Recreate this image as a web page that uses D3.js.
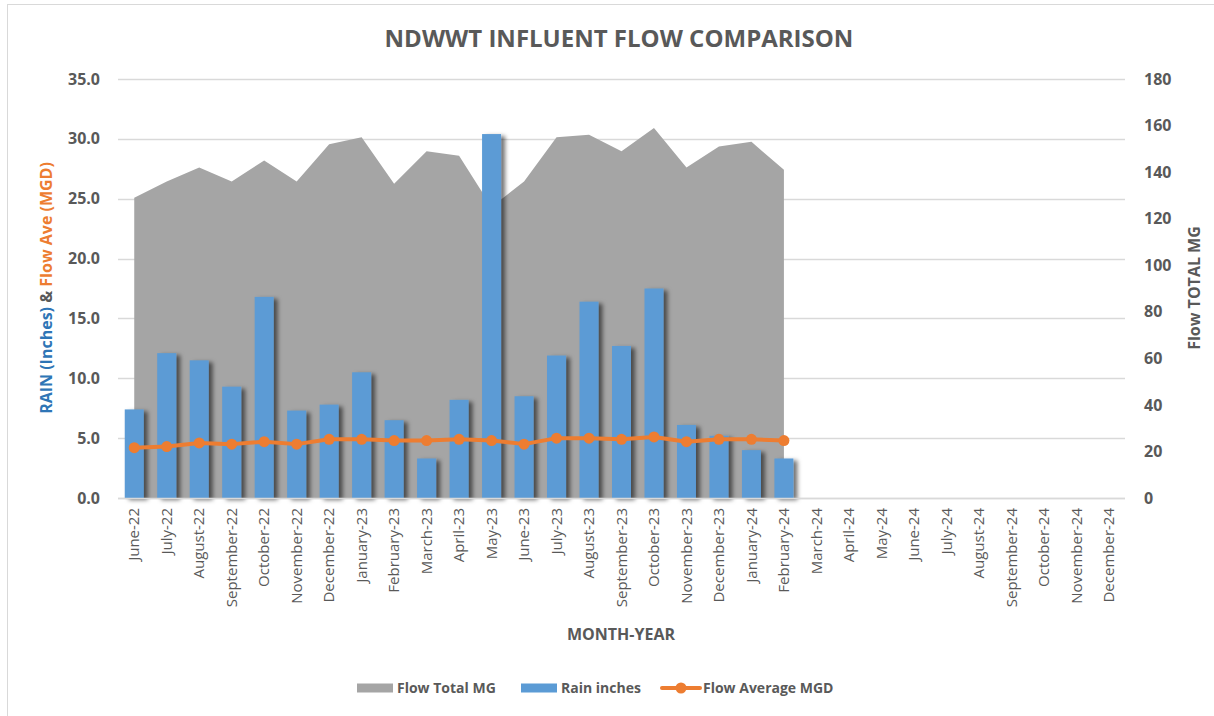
<!DOCTYPE html>
<html>
<head>
<meta charset="utf-8">
<script src="https://cdn.jsdelivr.net/npm/d3@7"></script>
<style>
	body { margin: 0; background: #fff; }
	text { font-family: 'Open Sans', sans-serif; fill: #595959; }
</style>
</head>
<body>
<script>
const months = [
	'June-22', 'July-22', 'August-22', 'September-22', 'October-22', 'November-22', 'December-22',
	'January-23', 'February-23', 'March-23', 'April-23', 'May-23', 'June-23', 'July-23', 'August-23',
	'September-23', 'October-23', 'November-23', 'December-23', 'January-24', 'February-24',
	'March-24', 'April-24', 'May-24', 'June-24', 'July-24', 'August-24', 'September-24',
	'October-24', 'November-24', 'December-24'
]

const rainInches = [7.4, 12.1, 11.5, 9.3, 16.8, 7.3, 7.8, 10.5, 6.5, 3.3, 8.2, 30.4, 8.5, 11.9, 16.4, 12.7, 17.5, 6.1, 5.2, 4.0, 3.3]
const flowTotalMG = [129, 136, 142, 136, 145, 136, 152, 155, 135, 149, 147, 125, 136, 155, 156, 149, 159, 142, 151, 153, 141]
const flowAverageMGD = [4.2, 4.3, 4.6, 4.5, 4.7, 4.5, 4.9, 4.9, 4.8, 4.8, 4.9, 4.8, 4.5, 5.0, 5.0, 4.9, 5.1, 4.7, 4.9, 4.9, 4.8]

const leftTicks = [0, 5, 10, 15, 20, 25, 30, 35]
const rightTicks = [0, 20, 40, 60, 80, 100, 120, 140, 160, 180]

const W = 1214
const H = 716
const margin = { top: 79, right: 89, bottom: 218, left: 118 }
const width = W - margin.left - margin.right
const height = H - margin.top - margin.bottom

const c = {
	text: '#595959',
	grid: '#d9d9d9',
	area: '#a5a5a5',
	bar: '#5b9bd5',
	line: '#ed7d31',
	rainTitle: '#2e75b6'
}

const root = d3.select('body').append('svg')
	.attr('width', W)
	.attr('height', H)

const defs = root.append('defs')
defs.append('filter')
	.attr('id', 'shadow')
	.attr('x', '-30%').attr('y', '-10%')
	.attr('width', '180%').attr('height', '130%')
	.append('feDropShadow')
		.attr('dx', 4)
		.attr('dy', 2)
		.attr('stdDeviation', 2.2)
		.attr('flood-color', '#000')
		.attr('flood-opacity', 0.55)

// chart border
root.append('rect')
	.attr('x', 7.5).attr('y', 4.5)
	.attr('width', W + 20).attr('height', H + 20)
	.attr('fill', 'none')
	.attr('stroke', c.grid)

root.append('text')
	.attr('x', 619)
	.attr('y', 47)
	.attr('text-anchor', 'middle')
	.style('font-size', '24px')
	.style('font-weight', 700)
	.text('NDWWT INFLUENT FLOW COMPARISON')

const svg = root.append('g')
	.attr('transform', `translate(${margin.left},${margin.top})`)

const x = d3.scaleBand()
	.domain(months)
	.range([0, width])

const yLeft = d3.scaleLinear()
	.domain([0, 35])
	.range([height, 0])

const yRight = d3.scaleLinear()
	.domain([0, 180])
	.range([height, 0])

const cx = i => x(months[i]) + x.bandwidth() / 2

// gridlines
svg.append('g')
	.selectAll('line')
	.data(leftTicks)
	.join('line')
		.attr('x1', 0)
		.attr('x2', width)
		.attr('y1', d => Math.round(yLeft(d)) + 0.5)
		.attr('y2', d => Math.round(yLeft(d)) + 0.5)
		.attr('stroke', c.grid)
		.attr('stroke-width', 1.3)

// flow total area
const area = d3.area()
	.x((d, i) => cx(i))
	.y0(height)
	.y1(d => yRight(d))

svg.append('path')
	.datum(flowTotalMG)
	.attr('d', area)
	.attr('fill', c.area)

// rain bars
const barWidth = 19
svg.append('g')
	.attr('filter', 'url(#shadow)')
	.selectAll('rect')
	.data(rainInches)
	.join('rect')
		.attr('x', (d, i) => cx(i) - barWidth / 2)
		.attr('width', barWidth)
		.attr('y', d => yLeft(d))
		.attr('height', d => height - yLeft(d))
		.attr('fill', c.bar)

// baseline
svg.append('line')
	.attr('x1', 0).attr('x2', width)
	.attr('y1', height + 0.5).attr('y2', height + 0.5)
	.attr('stroke', c.grid)
	.attr('stroke-width', 1.5)

// flow average line
const line = d3.line()
	.x((d, i) => cx(i))
	.y(d => yLeft(d))

svg.append('path')
	.datum(flowAverageMGD)
	.attr('d', line)
	.attr('fill', 'none')
	.attr('stroke', c.line)
	.attr('stroke-width', 4)
	.attr('stroke-linejoin', 'round')

svg.append('g')
	.selectAll('circle')
	.data(flowAverageMGD)
	.join('circle')
		.attr('cx', (d, i) => cx(i))
		.attr('cy', d => yLeft(d))
		.attr('r', 5.5)
		.attr('fill', c.line)

// axes
const leftAxis = d3.axisLeft(yLeft)
	.tickValues(leftTicks)
	.tickFormat(d3.format('.1f'))
	.tickSize(0)
	.tickPadding(18)

svg.append('g')
	.attr('class', 'y-left')
	.call(leftAxis)
	.call(g => g.select('.domain').remove())
	.selectAll('text')
		.style('font-size', '16px')
		.style('font-weight', 700)
		.attr('fill', c.text)

const rightAxis = d3.axisRight(yRight)
	.tickValues(rightTicks)
	.tickSize(0)
	.tickPadding(19)

svg.append('g')
	.attr('class', 'y-right')
	.attr('transform', `translate(${width},0)`)
	.call(rightAxis)
	.call(g => g.select('.domain').remove())
	.selectAll('text')
		.style('font-size', '16px')
		.style('font-weight', 700)
		.attr('fill', c.text)

const xAxis = d3.axisBottom(x)
	.tickSize(0)

svg.append('g')
	.attr('class', 'x-axis')
	.attr('transform', `translate(0,${height})`)
	.call(xAxis)
	.call(g => g.select('.domain').remove())
	.selectAll('text')
		.attr('transform', 'rotate(-90)')
		.attr('x', -10)
		.attr('y', 0)
		.attr('dy', '0.35em')
		.attr('text-anchor', 'end')
		.style('font-size', '15px')
		.attr('fill', c.text)

// axis titles
const leftTitle = root.append('text')
	.attr('transform', 'translate(52,288) rotate(-90)')
	.attr('text-anchor', 'middle')
	.style('font-size', '16px')
	.style('font-weight', 700)
leftTitle.append('tspan').style('fill', c.rainTitle).text('RAIN (Inches)')
leftTitle.append('tspan').text(' & ')
leftTitle.append('tspan').style('fill', c.line).text('Flow Ave (MGD)')

root.append('text')
	.attr('transform', 'translate(1200,288) rotate(-90)')
	.attr('text-anchor', 'middle')
	.style('font-size', '16px')
	.style('font-weight', 700)
	.text('Flow TOTAL MG')

root.append('text')
	.attr('x', 621)
	.attr('y', 640)
	.attr('text-anchor', 'middle')
	.style('font-size', '16px')
	.style('font-weight', 700)
	.text('MONTH-YEAR')

// legend
const legend = root.append('g')
	.attr('transform', 'translate(0,688)')

const legendItems = [
	{ label: 'Flow Total MG', type: 'box', color: c.area, x: 357 },
	{ label: 'Rain inches', type: 'box', color: c.bar, x: 521 },
	{ label: 'Flow Average MGD', type: 'line', color: c.line, x: 662 }
]

legendItems.forEach(d => {
	const g = legend.append('g').attr('transform', `translate(${d.x},0)`)
	if (d.type === 'box') {
		g.append('rect')
			.attr('x', 0).attr('y', -4.5)
			.attr('width', 36).attr('height', 9)
			.attr('fill', d.color)
	} else {
		g.append('line')
			.attr('x1', 0).attr('x2', 38)
			.attr('stroke', d.color)
			.attr('stroke-width', 4)
			.attr('stroke-linecap', 'round')
		g.append('circle')
			.attr('cx', 19)
			.attr('r', 5.5)
			.attr('fill', d.color)
	}
	g.append('text')
		.attr('x', d.type === 'box' ? 40 : 41)
		.attr('dy', '0.35em')
		.style('font-size', '14px')
		.style('font-weight', 700)
		.text(d.label)
})
</script>
</body>
</html>
